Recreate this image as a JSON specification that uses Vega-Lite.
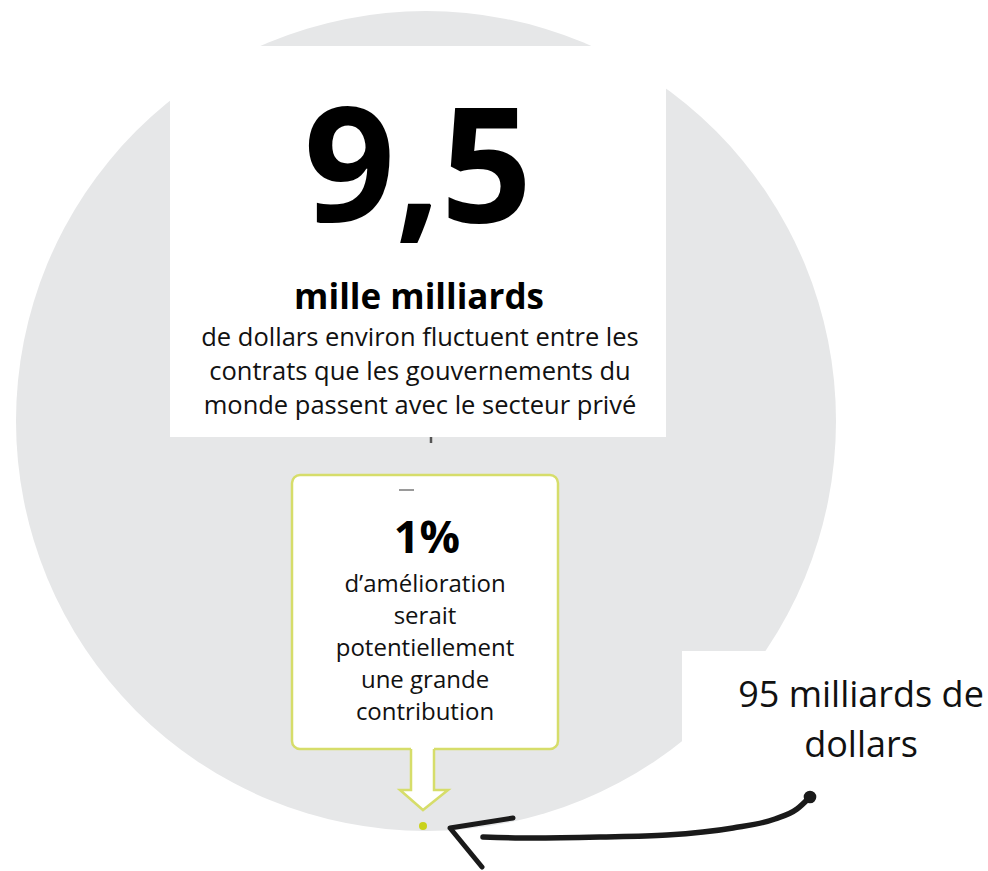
{
  "$schema": "https://vega.github.io/schema/vega-lite/v6.json",
  "width": 988,
  "height": 871,
  "autosize": {"type": "fit", "contains": "padding"},
  "padding": 0,
  "background": "white",
  "config": {"view": {"stroke": null}},
  "datasets": {
    "disc": [{"cx": 426, "cy": 421}],
    "panels": [
      {"name": "main", "x1": 170, "x2": 666, "y1": 46, "y2": 437},
      {"name": "label", "x1": 682, "x2": 988, "y1": 651, "y2": 871}
    ],
    "callout": [{"x1": 292, "x2": 558, "y1": 475, "y2": 749}],
    "shaft": [{"x1": 411, "x2": 434, "y1": 745, "y2": 791}],
    "head": [
      {"x": 400, "y": 790, "y2": 790},
      {"x": 423, "y": 790, "y2": 810},
      {"x": 448, "y": 790, "y2": 790}
    ],
    "outline": [
      {"i": 1, "x": 411, "y": 749},
      {"i": 2, "x": 411, "y": 790},
      {"i": 3, "x": 400, "y": 790},
      {"i": 4, "x": 423, "y": 810},
      {"i": 5, "x": 448, "y": 790},
      {"i": 6, "x": 434, "y": 790},
      {"i": 7, "x": 434, "y": 749}
    ],
    "dot": [{"x": 423, "y": 826}],
    "tick": [{"x": 431, "y": 437, "y2": 443}],
    "dash": [{"x": 399, "x2": 414, "y": 490}],
    "curve": [
      {"i": 1, "x": 810, "y": 797},
      {"i": 2, "x": 797, "y": 809},
      {"i": 3, "x": 775, "y": 819},
      {"i": 4, "x": 733, "y": 828},
      {"i": 5, "x": 667, "y": 835},
      {"i": 6, "x": 600, "y": 837},
      {"i": 7, "x": 533, "y": 838},
      {"i": 8, "x": 483, "y": 837}
    ],
    "blob": [{"x": 810, "y": 797}],
    "arrowhead": [
      {"i": 1, "x": 513, "y": 818},
      {"i": 2, "x": 450, "y": 828},
      {"i": 3, "x": 482, "y": 867}
    ],
    "big": [{"x": 418, "y": 222, "t": "9,5"}],
    "unit": [{"x": 419, "y": 309, "t": "mille milliards"}],
    "body": [
      {"x": 420, "y": 346, "t": "de dollars environ fluctuent entre les"},
      {"x": 420, "y": 380, "t": "contrats que les gouvernements du"},
      {"x": 420, "y": 414, "t": "monde passent avec le secteur privé"}
    ],
    "pct": [{"x": 427, "y": 553, "t": "1%"}],
    "calloutText": [
      {"x": 425, "y": 592, "t": "d’amélioration"},
      {"x": 425, "y": 624, "t": "serait"},
      {"x": 425, "y": 656, "t": "potentiellement"},
      {"x": 425, "y": 688, "t": "une grande"},
      {"x": 425, "y": 720, "t": "contribution"}
    ],
    "side": [
      {"x": 861, "y": 707, "t": "95 milliards de"},
      {"x": 861, "y": 757, "t": "dollars"}
    ]
  },
  "layer": [
    {
      "data": {"name": "disc"},
      "mark": {"type": "point", "shape": "circle", "filled": true, "size": 672400, "color": "#e6e7e8", "opacity": 1, "strokeWidth": 0},
      "encoding": {
        "x": {"field": "cx", "type": "quantitative", "scale": {"domain": [0, 988], "nice": false, "zero": false}, "axis": null},
        "y": {"field": "cy", "type": "quantitative", "scale": {"domain": [0, 871], "reverse": true, "nice": false, "zero": false}, "axis": null}
      }
    },
    {
      "data": {"name": "panels"},
      "mark": {"type": "rect", "color": "white"},
      "encoding": {
        "x": {"field": "x1", "type": "quantitative", "axis": null},
        "x2": {"field": "x2"},
        "y": {"field": "y1", "type": "quantitative", "axis": null},
        "y2": {"field": "y2"}
      }
    },
    {
      "data": {"name": "callout"},
      "mark": {"type": "rect", "fill": "white", "stroke": "#d6dd6a", "strokeWidth": 2.5, "cornerRadius": 8},
      "encoding": {
        "x": {"field": "x1", "type": "quantitative", "axis": null},
        "x2": {"field": "x2"},
        "y": {"field": "y1", "type": "quantitative", "axis": null},
        "y2": {"field": "y2"}
      }
    },
    {
      "data": {"name": "shaft"},
      "mark": {"type": "rect", "color": "white"},
      "encoding": {
        "x": {"field": "x1", "type": "quantitative", "axis": null},
        "x2": {"field": "x2"},
        "y": {"field": "y1", "type": "quantitative", "axis": null},
        "y2": {"field": "y2"}
      }
    },
    {
      "data": {"name": "head"},
      "mark": {"type": "area", "color": "white", "opacity": 1},
      "encoding": {
        "x": {"field": "x", "type": "quantitative", "axis": null},
        "y": {"field": "y", "type": "quantitative", "axis": null},
        "y2": {"field": "y2"}
      }
    },
    {
      "data": {"name": "outline"},
      "mark": {"type": "line", "color": "#d6dd6a", "strokeWidth": 2.5, "strokeJoin": "miter"},
      "encoding": {
        "x": {"field": "x", "type": "quantitative", "axis": null},
        "y": {"field": "y", "type": "quantitative", "axis": null},
        "order": {"field": "i", "type": "quantitative"}
      }
    },
    {
      "data": {"name": "dot"},
      "mark": {"type": "point", "shape": "circle", "filled": true, "size": 64, "color": "#c9d21c", "opacity": 1},
      "encoding": {
        "x": {"field": "x", "type": "quantitative", "axis": null},
        "y": {"field": "y", "type": "quantitative", "axis": null}
      }
    },
    {
      "data": {"name": "tick"},
      "mark": {"type": "rule", "color": "#555555", "strokeWidth": 2.5},
      "encoding": {
        "x": {"field": "x", "type": "quantitative", "axis": null},
        "y": {"field": "y", "type": "quantitative", "axis": null},
        "y2": {"field": "y2"}
      }
    },
    {
      "data": {"name": "dash"},
      "mark": {"type": "rule", "color": "#9a9a9a", "strokeWidth": 2},
      "encoding": {
        "x": {"field": "x", "type": "quantitative", "axis": null},
        "x2": {"field": "x2"},
        "y": {"field": "y", "type": "quantitative", "axis": null}
      }
    },
    {
      "data": {"name": "curve"},
      "mark": {"type": "line", "color": "#1a1a1a", "strokeWidth": 5.5, "strokeCap": "round", "interpolate": "monotone"},
      "encoding": {
        "x": {"field": "x", "type": "quantitative", "axis": null},
        "y": {"field": "y", "type": "quantitative", "axis": null},
        "order": {"field": "i", "type": "quantitative"}
      }
    },
    {
      "data": {"name": "blob"},
      "mark": {"type": "point", "shape": "circle", "filled": true, "size": 160, "color": "#1a1a1a", "opacity": 1},
      "encoding": {
        "x": {"field": "x", "type": "quantitative", "axis": null},
        "y": {"field": "y", "type": "quantitative", "axis": null}
      }
    },
    {
      "data": {"name": "arrowhead"},
      "mark": {"type": "line", "color": "#1a1a1a", "strokeWidth": 5, "strokeCap": "round", "strokeJoin": "round"},
      "encoding": {
        "x": {"field": "x", "type": "quantitative", "axis": null},
        "y": {"field": "y", "type": "quantitative", "axis": null},
        "order": {"field": "i", "type": "quantitative"}
      }
    },
    {
      "data": {"name": "big"},
      "mark": {"type": "text", "font": "Open Sans", "fontWeight": "bold", "fontSize": 160, "align": "center", "baseline": "alphabetic", "color": "#000000"},
      "encoding": {
        "x": {"field": "x", "type": "quantitative", "axis": null},
        "y": {"field": "y", "type": "quantitative", "axis": null},
        "text": {"field": "t"}
      }
    },
    {
      "data": {"name": "unit"},
      "mark": {"type": "text", "font": "Open Sans", "fontWeight": "bold", "fontSize": 35, "align": "center", "baseline": "alphabetic", "color": "#000000"},
      "encoding": {
        "x": {"field": "x", "type": "quantitative", "axis": null},
        "y": {"field": "y", "type": "quantitative", "axis": null},
        "text": {"field": "t"}
      }
    },
    {
      "data": {"name": "body"},
      "mark": {"type": "text", "font": "Open Sans", "fontSize": 25.5, "align": "center", "baseline": "alphabetic", "color": "#111111"},
      "encoding": {
        "x": {"field": "x", "type": "quantitative", "axis": null},
        "y": {"field": "y", "type": "quantitative", "axis": null},
        "text": {"field": "t"}
      }
    },
    {
      "data": {"name": "pct"},
      "mark": {"type": "text", "font": "Open Sans", "fontWeight": "bold", "fontSize": 45, "align": "center", "baseline": "alphabetic", "color": "#000000"},
      "encoding": {
        "x": {"field": "x", "type": "quantitative", "axis": null},
        "y": {"field": "y", "type": "quantitative", "axis": null},
        "text": {"field": "t"}
      }
    },
    {
      "data": {"name": "calloutText"},
      "mark": {"type": "text", "font": "Open Sans", "fontSize": 24, "align": "center", "baseline": "alphabetic", "color": "#111111"},
      "encoding": {
        "x": {"field": "x", "type": "quantitative", "axis": null},
        "y": {"field": "y", "type": "quantitative", "axis": null},
        "text": {"field": "t"}
      }
    },
    {
      "data": {"name": "side"},
      "mark": {"type": "text", "font": "Open Sans", "fontSize": 36, "align": "center", "baseline": "alphabetic", "color": "#111111"},
      "encoding": {
        "x": {"field": "x", "type": "quantitative", "axis": null},
        "y": {"field": "y", "type": "quantitative", "axis": null},
        "text": {"field": "t"}
      }
    }
  ]
}
